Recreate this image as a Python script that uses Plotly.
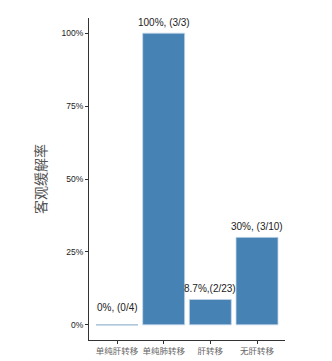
import plotly.graph_objects as go

categories = ["单纯肝转移", "单纯肺转移", "肝转移", "无肝转移"]
rates = [0.0, 1.0, 0.087, 0.30]
labels = ["0%, (0/4)", "100%, (3/3)", "8.7%,(2/23)", "30%, (3/10)"]
label_shift = [17, 11, 11, 11]
y_ticks = [0, 0.25, 0.5, 0.75, 1.0]
y_tick_text = ["0%", "25%", "50%", "75%", "100%"]
bar_width = 0.9

fig = go.Figure()
fig.add_trace(go.Bar(
    x=categories, y=rates, width=bar_width,
    marker=dict(color="#4682B4", line=dict(color="#C8D8E8", width=0.8)),
    hoverinfo="skip",
))
# zero-height bars show only their light outline
for i, v in enumerate(rates):
    if v == 0:
        fig.add_shape(type="line", xref="x", yref="y",
                      x0=i - bar_width / 2, x1=i + bar_width / 2, y0=v, y1=v,
                      line=dict(color="#B0C8DC", width=1.5))
for c, v, t, s in zip(categories, rates, labels, label_shift):
    fig.add_annotation(x=c, y=v, text=t, showarrow=False, yshift=s,
                       font=dict(size=10, color="#222", family="Liberation Sans, Arial"))

fig.add_annotation(text="客观缓解率", xref="paper", yref="paper", x=0, y=0.5,
                   xanchor="center", yanchor="middle", xshift=-49, textangle=-90,
                   showarrow=False,
                   font=dict(size=14, color="#555", family="Noto Sans CJK SC"))

fig.update_layout(
    width=332, height=361,
    margin=dict(l=89, r=47, t=18, b=21),
    plot_bgcolor="white", paper_bgcolor="white",
    showlegend=False,
    bargap=0.1,
)
fig.update_xaxes(
    type="category", range=[-0.6, 3.6], automargin=False, tickangle=0,
    showline=True, linecolor="#333", linewidth=1,
    ticks="outside", ticklen=3, tickcolor="#333",
    tickfont=dict(size=8.5, color="#666", family="Noto Sans CJK SC"),
    showgrid=False, zeroline=False,
)
fig.update_yaxes(
    range=[-0.052, 1.052], automargin=False,
    tickvals=y_ticks, ticktext=y_tick_text,
    showline=True, linecolor="#333", linewidth=1,
    ticks="outside", ticklen=3, tickcolor="#333",
    tickfont=dict(size=8.5, color="#222", family="Liberation Sans, Arial"),
    showgrid=False, zeroline=False,
)
fig.write_html("out.html")
